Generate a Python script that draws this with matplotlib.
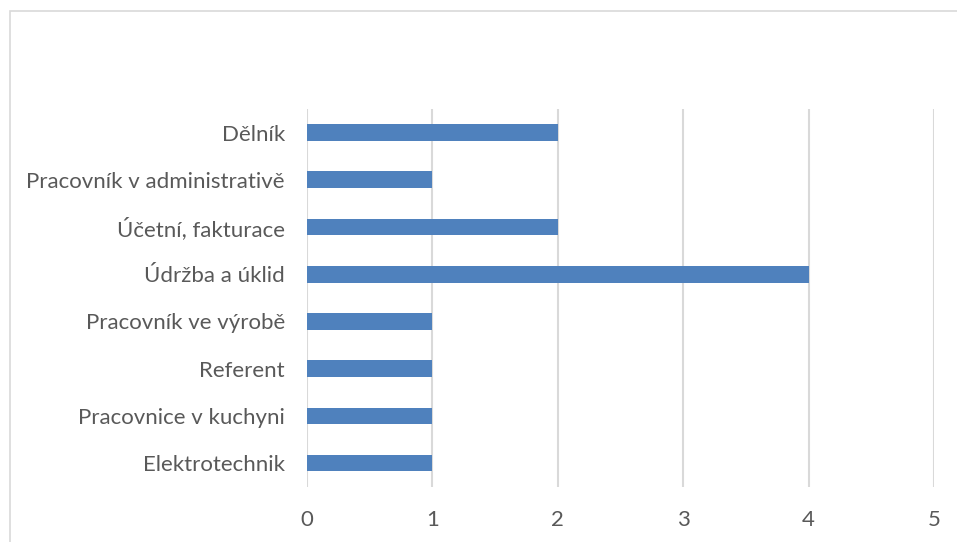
import matplotlib
matplotlib.use("Agg")
import matplotlib.pyplot as plt
from matplotlib.patches import Rectangle

categories = [
    "Dělník",
    "Pracovník v administrativě",
    "Účetní, fakturace",
    "Údržba a úklid",
    "Pracovník ve výrobě",
    "Referent",
    "Pracovnice v kuchyni",
    "Elektrotechnik",
]
counts = [2, 1, 2, 4, 1, 1, 1, 1]
x_ticks = [0, 1, 2, 3, 4, 5]

plt.rcParams["font.family"] = ["Lato", "DejaVu Sans"]

fig = plt.figure(figsize=(9.57, 5.42), dpi=100)
ax = fig.add_axes([0.3208, 0.102, 0.976 - 0.3208, 0.799 - 0.102])

# first category on top
ypos = list(range(len(categories)))[::-1]
ax.barh(ypos, counts, height=0.355, color="#4F81BD", zorder=3)

ax.set_xlim(0, 5)
ax.set_ylim(-0.5, len(categories) - 0.5)
ax.set_xticks(x_ticks)
ax.set_yticks(ypos)
ax.set_yticklabels(categories)
ax.tick_params(axis="both", length=0, labelsize=16, colors="#595959")
ax.tick_params(axis="y", pad=16)
ax.tick_params(axis="x", pad=17)
ax.grid(axis="x", color="#D9D9D9", linewidth=1.5, zorder=0)
for side in ax.spines.values():
    side.set_visible(False)

# light frame around the chart area
fig.patches.append(Rectangle((9.5 / 957, -0.1), 1.2, 1 - 10.5 / 542 + 0.1,
                             transform=fig.transFigure, fill=False,
                             edgecolor="#D9D9D9", linewidth=1.2))

fig.savefig("out.png", dpi=100)
